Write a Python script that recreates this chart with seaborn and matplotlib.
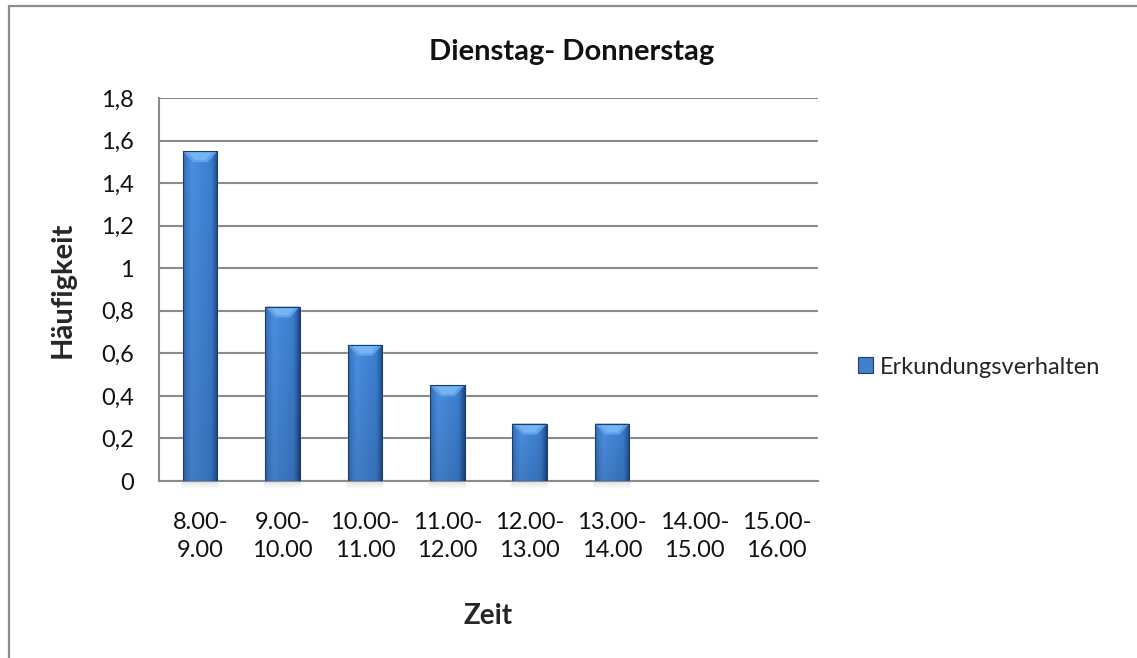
import numpy as np
import pandas as pd
import matplotlib
matplotlib.use("Agg")
import matplotlib.pyplot as plt
from matplotlib.patches import Rectangle, Polygon, Patch
import seaborn as sns

# Data
zeit = ["8.00-\n9.00", "9.00-\n10.00", "10.00-\n11.00", "11.00-\n12.00",
        "12.00-\n13.00", "13.00-\n14.00", "14.00-\n15.00", "15.00-\n16.00"]
erkundung = [1.55, 0.82, 0.64, 0.45, 0.27, 0.27, 0.0, 0.0]
y_ticks = [0, 0.2, 0.4, 0.6, 0.8, 1.0, 1.2, 1.4, 1.6, 1.8]
y_ticklabels = ["0", "0,2", "0,4", "0,6", "0,8", "1", "1,2", "1,4", "1,6", "1,8"]
series_name = "Erkundungsverhalten"
title = "Dienstag- Donnerstag"

df = pd.DataFrame({"Zeit": zeit, "Wert": erkundung})

sns.set_theme(style="white")
plt.rcParams["font.family"] = ["Lato", "DejaVu Sans"]

W, H = 1137, 658
fig = plt.figure(figsize=(W / 100, H / 100), dpi=100)
ax = fig.add_axes([159 / W, 1 - 481 / H, (818 - 159) / W, (481 - 98) / H])

sns.barplot(data=df, x="Zeit", y="Wert", ax=ax, color="#3B7CCC",
            width=0.42, saturation=1, zorder=3)

ax.set_ylim(0, 1.8)
ax.set_xlim(-0.5, len(zeit) - 0.5)
ax.set_yticks(y_ticks)
ax.set_yticklabels(y_ticklabels, fontsize=17, color="#111111")
ax.tick_params(axis="y", length=0, pad=18)
ax.tick_params(axis="x", length=0, pad=22, labelsize=17, labelcolor="#111111")
for lab in ax.get_xticklabels():
    lab.set_linespacing(1.45)

ax.grid(axis="y", color="#8a8a8a", linewidth=1.5, zorder=0)
ax.grid(axis="x", visible=False)
for side in ["top", "right"]:
    ax.spines[side].set_visible(False)
for side in ["left", "bottom"]:
    ax.spines[side].set_color("#8a8a8a")
    ax.spines[side].set_linewidth(1.5)

ax.set_xlabel("Zeit", fontsize=20, fontweight="bold", labelpad=30)
ax.set_ylabel("Häufigkeit", fontsize=21, fontweight="bold", labelpad=18)
fig.text(572 / W, 1 - 52 / H, title, fontsize=21, fontweight="bold",
         ha="center", va="center", color="#111111")

# Shaded bar faces: dark edges, lighter left-centre, bevelled top facet
def mix(a, b, t):
    return np.array(a) + (np.array(b) - np.array(a)) * t

def hexrgb(h):
    h = h.lstrip("#")
    return [int(h[i:i + 2], 16) / 255 for i in (0, 2, 4)]

c_left = hexrgb("#2a5ea6")
c_peak = hexrgb("#4a8ee0")
c_mid = hexrgb("#3c7ed0")
c_right = hexrgb("#1e4680")
n = 80
shade = np.empty((n, 3))
for i, t in enumerate(np.linspace(0, 1, n)):
    if t < 0.25:
        shade[i] = mix(c_left, c_peak, (t / 0.25) ** 0.5)
    elif t < 0.8:
        shade[i] = mix(c_peak, c_mid, (t - 0.25) / 0.55)
    else:
        shade[i] = mix(c_mid, c_right, ((t - 0.8) / 0.2) ** 1.3)
prof_y = np.linspace(1.0, 0.88, n)[:, None, None]
img = np.clip(shade[None, :, :] * prof_y, 0, 1)

x_per_px = len(zeit) / (818 - 159)
y_per_px = 1.8 / (481 - 98)

for p in list(ax.patches):
    h = p.get_height()
    if h <= 0:
        p.set_visible(False)
        continue
    x0, w = p.get_x(), p.get_width()
    # soft shadow under the bar
    for k in range(5):
        ax.add_patch(Rectangle((x0 - k * 0.4 * x_per_px, 0),
                               w + k * 0.8 * x_per_px, -(k + 1) * 1.4 * y_per_px,
                               facecolor="#9a9a9a", alpha=0.06, lw=0, zorder=2,
                               clip_on=False))
    im = ax.imshow(img, extent=[x0, x0 + w, 0, h], aspect="auto",
                   interpolation="bilinear", zorder=4)
    im.set_clip_path(p)
    bev_h = 11 * y_per_px
    bev_w = 10 * x_per_px
    ax.add_patch(Polygon([(x0, h), (x0 + w, h), (x0 + w - bev_w, h - bev_h),
                          (x0 + bev_w, h - bev_h)], closed=True,
                         facecolor="#5fa2ea", edgecolor="none", zorder=5))
    ax.add_patch(Polygon([(x0 + 0.15 * w, h - 1.2 * y_per_px), (x0 + 0.85 * w, h - 1.2 * y_per_px),
                          (x0 + w - 1.2 * bev_w, h - 0.8 * bev_h), (x0 + 1.2 * bev_w, h - 0.8 * bev_h)],
                         closed=True, facecolor="#80bdf6", edgecolor="none", alpha=0.7, zorder=5))
    ax.add_patch(Rectangle((x0, 0), w, h, facecolor="none",
                           edgecolor="#1d3d6b", lw=0.8, zorder=6))

handle = Patch(facecolor="#3f7fcc", edgecolor="#1d3d6b", linewidth=0.8)
fig.legend([handle], [series_name], loc="center left",
           bbox_to_anchor=(846 / W, 1 - 367 / H), frameon=False,
           fontsize=17, handlelength=0.65, handleheight=0.65,
           handletextpad=0.3, borderpad=0)

# outer chart frame
fig.add_artist(Rectangle((8.5 / W, -0.2), 1.2, 1.2 - 5.5 / H,
                         transform=fig.transFigure, fill=False,
                         edgecolor="#8c8c8c", lw=1.6))

fig.savefig("out.png", dpi=100)
